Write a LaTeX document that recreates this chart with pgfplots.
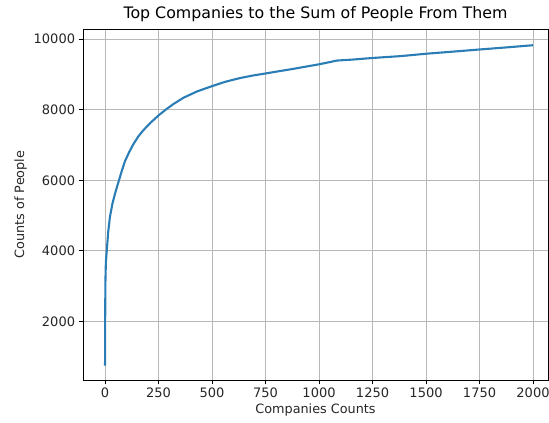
\documentclass[border=0pt]{standalone}
\usepackage{fontspec}
\setmainfont{DejaVu Sans}
\usepackage{pgfplots}
\pgfplotsset{compat=1.18}
\definecolor{mplblue}{HTML}{2A7DB5}
\definecolor{txt}{HTML}{262626}
\begin{document}
\begin{tikzpicture}[x=1pt,y=1pt]
\useasboundingbox (-83,-43) rectangle (466,380);
\begin{axis}[
  at={(0,0)}, anchor=south west,
  scale only axis, width=465pt, height=351pt,
  xmin=-103, xmax=2070, ymin=340, ymax=10290,
  xtick={0,250,500,750,1000,1250,1500,1750,2000},
  ytick={2000,4000,6000,8000,10000},
  scaled ticks=false,
  /pgf/number format/assume math mode=true,
  /pgf/number format/set thousands separator={},
  tick label style={font=\fontsize{13}{15}\selectfont, text=txt},
  label style={font=\fontsize{12.8}{15}\selectfont, text=txt},
  xlabel style={yshift=1pt},
  title style={font=\fontsize{15.8}{18}\selectfont, text=black, yshift=-2pt},
  title={Top Companies to the Sum of People From Them},
  xlabel={Companies Counts}, ylabel={Counts of People},
  tick align=outside, tick pos=left,
  major tick length=4.4pt,
  every tick/.style={black, line width=0.9pt},
  axis line style={black, line width=0.9pt},
  grid=major, grid style={color=black!28, line width=0.9pt},
]
\addplot[mplblue, line width=2.1pt, line join=round] coordinates {
(0,750) (0.5,1800) (1,2500) (2,3200) (4,3700) (8,4000) (15,4550) (23,4970)
(35,5350) (47,5630) (65,6000) (78,6260) (93,6540) (112,6790) (132,7020)
(155,7240) (179,7420) (212,7630) (250,7840) (285,8010) (319,8160) (366,8340)
(430,8520) (500,8670) (560,8790) (631,8900) (690,8970) (751,9030) (815,9095)
(880,9160) (940,9225) (1001,9290) (1045,9345) (1083,9395) (1150,9420)
(1254,9470) (1379,9520) (1503,9590) (1630,9650) (1752,9710) (1880,9770)
(2000,9830)
};
\end{axis}
\end{tikzpicture}
\end{document}
